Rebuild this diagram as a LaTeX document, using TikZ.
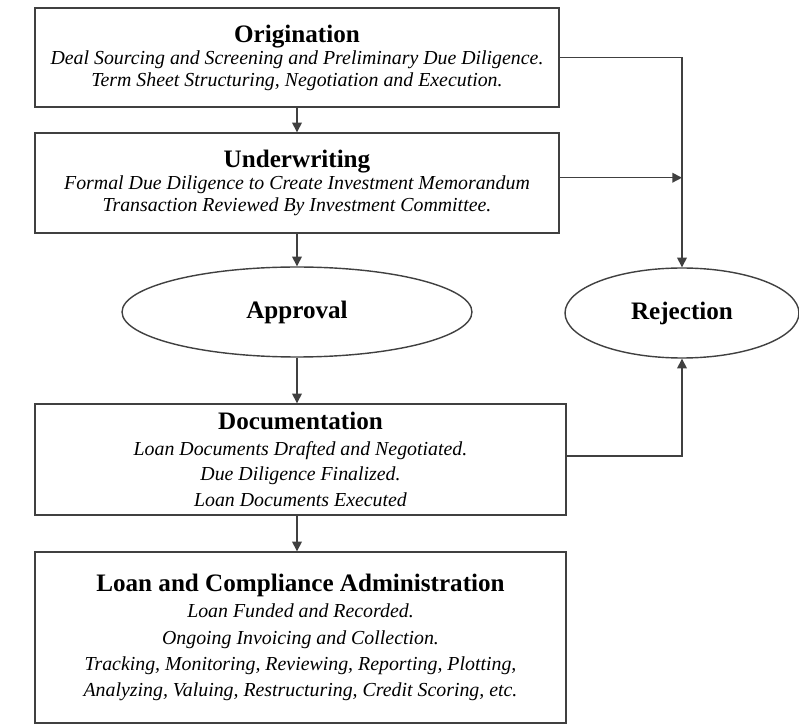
\documentclass[tikz,border=0pt]{standalone}
\usepackage{fontspec}
\setmainfont{Liberation Serif}
\usetikzlibrary{arrows.meta, shapes.geometric}

\tikzset{
    stagebox/.style={draw=black!75, line width=0.8pt, rectangle, align=center, inner sep=0pt,
        font=\fontsize{11.3pt}{12.5pt}\selectfont\itshape},
    outcome/.style={draw=black!75, line width=0.8pt, ellipse, inner sep=0pt,
        minimum height=1.8cm, font=\fontsize{14.3pt}{17pt}\selectfont\bfseries},
    flow/.style={draw=black!75, line width=0.8pt, -{Triangle[length=5.5pt,width=5.5pt]}}
}
\newcommand{\stagetitle}[1]{{\fontsize{14.3pt}{12.5pt}\selectfont\bfseries\upshape #1}}

\begin{document}
\begin{tikzpicture}[x=0.02cm, y=-0.02cm]
        \useasboundingbox (0,0) rectangle (799,726);

        % Stages
        \node[stagebox, minimum width=10.48cm, minimum height=1.98cm] (orig) at (297,57.5)
            {\stagetitle{Origination}\\
             Deal Sourcing and Screening and Preliminary Due Diligence.\\
             Term Sheet Structuring, Negotiation and Execution.};
        \node[stagebox, minimum width=10.48cm, minimum height=2cm] (under) at (297,183)
            {\stagetitle{Underwriting}\\
             Formal Due Diligence to Create Investment Memorandum\\
             Transaction Reviewed By Investment Committee.};
        \node[stagebox, minimum width=10.62cm, minimum height=2.22cm,
              font=\fontsize{11.3pt}{14.5pt}\selectfont\itshape] (docu) at (300.5,459.5)
            {\stagetitle{Documentation}\\
             Loan Documents Drafted and Negotiated.\\
             Due Diligence Finalized.\\
             Loan Documents Executed};
        \node[stagebox, minimum width=10.62cm, minimum height=3.42cm,
              font=\fontsize{11.3pt}{15pt}\selectfont\itshape] (admin) at (300.5,637.5)
            {\stagetitle{Loan and Compliance Administration}\\
             Loan Funded and Recorded.\\
             Ongoing Invoicing and Collection.\\
             Tracking, Monitoring, Reviewing, Reporting, Plotting,\\
             Analyzing, Valuing, Restructuring, Credit Scoring, etc.};

        % Decisions
        \node[outcome, minimum width=7cm] (approv) at (297,312) {Approval};
        \node[outcome, minimum width=4.68cm] (reject) at (682,313) {Rejection};

        % Main flow
        \draw[flow] (orig) -- (under);
        \draw[flow] (under.south) -- (under.south |- approv.north);
        \draw[flow] (approv.south) -- (approv.south |- docu.north);
        \draw[flow] (approv.south |- docu.south) -- (approv.south |- admin.north);

        % Rejection paths
        \coordinate (uwout) at ([yshift=3pt]under.east);
        \coordinate (docout) at ([yshift=2pt]docu.east);
        \draw[flow] (orig.east) -| (reject.north);
        \draw[flow] (uwout) -- (uwout -| reject.north);
        \draw[flow] (docout) -| (reject.south);
    \end{tikzpicture}
\end{document}
